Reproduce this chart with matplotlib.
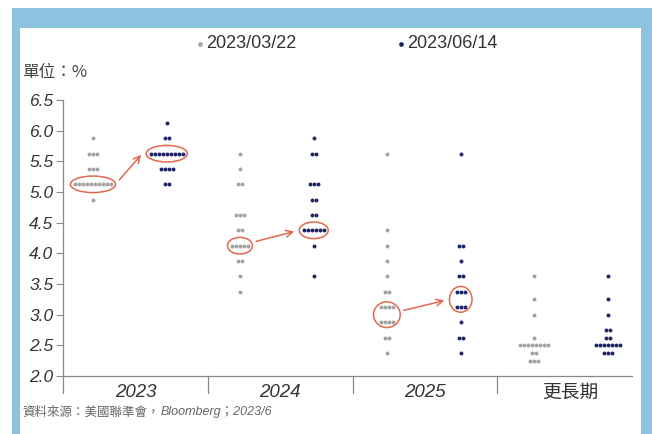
import matplotlib.pyplot as plt
from matplotlib.patches import Ellipse, Rectangle

plt.rcParams['font.family'] = ['Liberation Sans Narrow', 'Liberation Sans', 'Noto Sans CJK TC']

categories = ['2023', '2024', '2025', '更長期']
meetings = ['2023/03/22', '2023/06/14']

# 各年度利率點位 (中值) 與人數
mar_levels = [
    [4.875, 5.125, 5.375, 5.625, 5.875],
    [3.375, 3.625, 3.875, 4.125, 4.375, 4.625, 5.125, 5.375, 5.625],
    [2.375, 2.625, 2.875, 3.125, 3.375, 3.625, 3.875, 4.125, 4.375, 5.625],
    [2.25, 2.375, 2.5, 2.625, 3.0, 3.25, 3.625],
]
mar_counts = [
    [1, 10, 3, 3, 1],
    [1, 1, 2, 5, 2, 3, 2, 1, 1],
    [1, 2, 4, 4, 2, 1, 1, 1, 1, 1],
    [3, 2, 8, 1, 1, 1, 1],
]
jun_levels = [
    [5.125, 5.375, 5.625, 5.875, 6.125],
    [3.625, 4.125, 4.375, 4.625, 4.875, 5.125, 5.625, 5.875],
    [2.375, 2.625, 2.875, 3.125, 3.375, 3.625, 3.875, 4.125, 5.625],
    [2.375, 2.5, 2.625, 2.75, 3.0, 3.25, 3.625],
]
jun_counts = [
    [2, 4, 9, 2, 1],
    [1, 1, 6, 2, 2, 3, 2, 1],
    [1, 2, 1, 3, 3, 2, 1, 2, 1],
    [3, 7, 2, 2, 1, 1, 1],
]

# 圈選的中位數區間 (類別, 下限, 上限)
mar_marks = [(0, 5.125, 5.125), (1, 4.125, 4.125), (2, 2.875, 3.125)]
jun_marks = [(0, 5.625, 5.625), (1, 4.375, 4.375), (2, 3.125, 3.375)]

gray = '#a3a3a3'
navy = '#1c2566'
red = '#e0694d'
frame = '#8ec3df'
text_c = '#333333'

step = 0.028


def col_x(cat, which):
    base = 0.207 if which == 0 else 0.717
    return cat + base + 0.015 * cat


fig = plt.figure(figsize=(6.52, 4.34), dpi=100)
fig.patches.append(Rectangle((12 / 652, 0), 640 / 652, 1 - 8 / 434, transform=fig.transFigure,
                             facecolor=frame, edgecolor='none', zorder=-2))
fig.patches.append(Rectangle((20 / 652, 0), 621 / 652, 1 - 28 / 434, transform=fig.transFigure,
                             facecolor='white', edgecolor='none', zorder=-1))

ax = fig.add_axes([63 / 652, 1 - 376 / 434, 569 / 652, 276 / 434])
ax.set_facecolor('none')


def dots(levels, counts, x0):
    xs, ys = [], []
    for v, n in zip(levels, counts):
        for k in range(n):
            xs.append(x0 + (k - (n - 1) / 2) * step)
            ys.append(v)
    return xs, ys


for i in range(len(categories)):
    x, y = dots(mar_levels[i], mar_counts[i], col_x(i, 0))
    ax.scatter(x, y, s=8, color=gray, linewidths=0, label=meetings[0] if i == 0 else None, zorder=3)
    x, y = dots(jun_levels[i], jun_counts[i], col_x(i, 1))
    ax.scatter(x, y, s=8, color=navy, linewidths=0, label=meetings[1] if i == 0 else None, zorder=3)


def ring(cat, which, lo, hi, levels, counts):
    n = max(c for v, c in zip(levels, counts) if lo <= v <= hi)
    two = hi > lo
    w = (n - 1) * step + (0.10 if two else 0.06)
    h = (hi - lo) * 0.6 + 0.27
    xc, yc = col_x(cat, which), (lo + hi) / 2
    ax.add_patch(Ellipse((xc, yc), w, h, facecolor='none', edgecolor=red, lw=1.1, zorder=4))
    return xc, yc, w


for (c, lo, hi), (c2, lo2, hi2) in zip(mar_marks, jun_marks):
    x1, y1, w1 = ring(c, 0, lo, hi, mar_levels[c], mar_counts[c])
    x2, y2, w2 = ring(c2, 1, lo2, hi2, jun_levels[c2], jun_counts[c2])
    ax.annotate('', xy=(x2 - w2 / 2 - 0.035, y2 - 0.02), xytext=(x1 + w1 / 2 + 0.025, y1 + 0.07),
                arrowprops=dict(arrowstyle='->', color=red, lw=1.1, mutation_scale=12,
                                shrinkA=0, shrinkB=0), zorder=4)

ax.set_xlim(0, 3.93)
ax.set_ylim(2.0, 6.5)
ax.set_yticks([2.0 + 0.5 * k for k in range(10)])
ax.set_yticklabels([f'{2.0 + 0.5 * k:.1f}' for k in range(10)], fontsize=12.5, style='italic', color=text_c)
ax.tick_params(axis='y', direction='out', length=5, width=0.8, color='#888888', pad=2)
ax.set_xticks([])
for side in ['top', 'right']:
    ax.spines[side].set_visible(False)
for side in ['left', 'bottom']:
    ax.spines[side].set_color('#888888')
    ax.spines[side].set_linewidth(0.9)

# 類別分隔線與標籤
for i in range(len(categories)):
    ax.plot([i, i], [0, -0.062], transform=ax.get_xaxis_transform(), color='#888888', lw=0.9, clip_on=False)
    ax.text(i + 0.5, -0.058, categories[i], transform=ax.get_xaxis_transform(), ha='center', va='center',
            fontsize=13.5, style='normal' if i == 3 else 'italic', color=text_c,
            family=['Noto Sans CJK TC'] if i == 3 else None)

leg = ax.legend(loc='center', bbox_to_anchor=(346 / 652, 1 - 44 / 434), bbox_transform=fig.transFigure,
                ncol=2, frameon=False, fontsize=13, handletextpad=0.05, handlelength=0.6,
                columnspacing=5.5, markerscale=1.2)
for t in leg.get_texts():
    t.set_color(text_c)

fig.text(22 / 652, 1 - 72 / 434, '單位：%', fontsize=12, color='#444444', va='center',
         family=['Noto Sans CJK TC', 'Liberation Sans'])
src = fig.text(22 / 652, 1 - 412 / 434, '資料來源：美國聯準會，', fontsize=9, color='#666666', va='center',
               family=['Noto Sans CJK TC'])
ax.annotate('Bloomberg；2023/6', xy=(1, 0.5), xycoords=src, xytext=(1, 0), textcoords='offset points',
            fontsize=9, color='#666666', va='center', style='italic',
            family=['Liberation Sans Narrow', 'Liberation Sans', 'Noto Sans CJK TC'], annotation_clip=False)

fig.savefig('out.png', dpi=100)
